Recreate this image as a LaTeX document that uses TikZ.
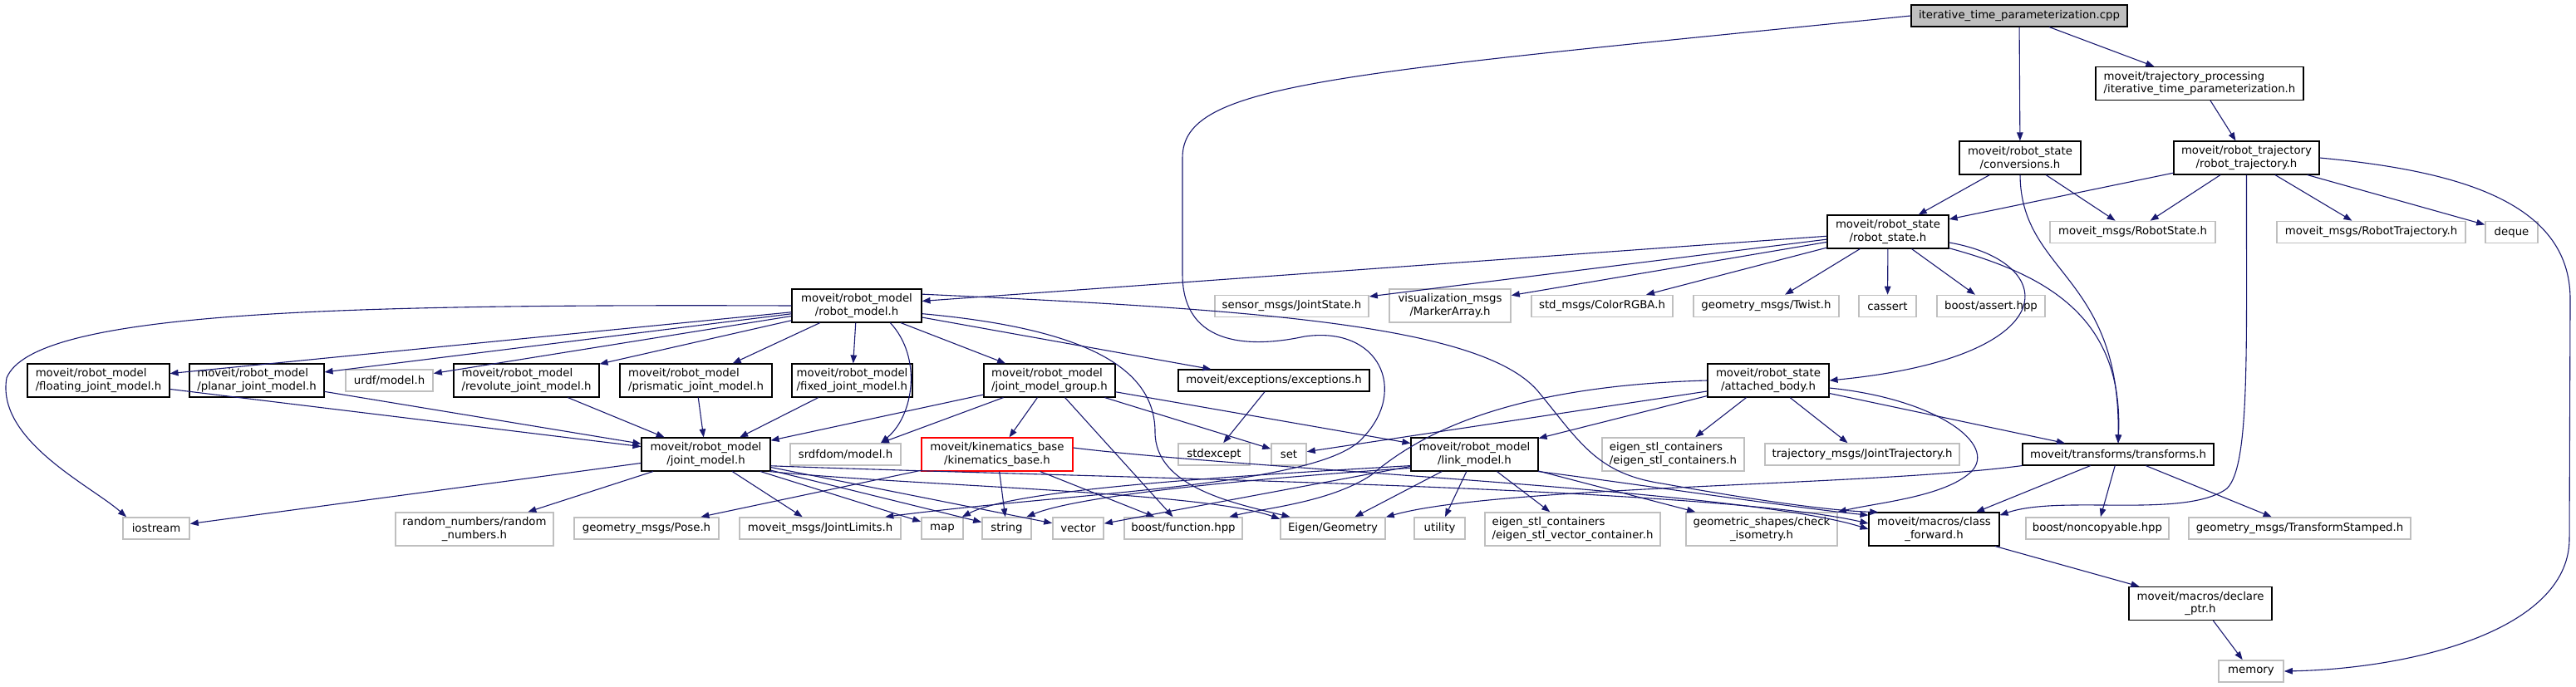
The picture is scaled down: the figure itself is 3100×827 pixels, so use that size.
\documentclass[tikz,border=0pt]{standalone}
\usepackage{fontspec}
\setmainfont{DejaVu Sans}
\usetikzlibrary{arrows.meta}
\definecolor{incblue}{HTML}{191970}
\definecolor{extgray}{HTML}{BFBFBF}
\tikzset{
  hdr/.style={draw=black,line width=1.1pt,fill=white,inner sep=0pt,align=center,font=\fontsize{13.3pt}{15.5pt}\selectfont},
  ext/.style={hdr,draw=extgray,line width=1.6pt},
  root/.style={hdr,fill=extgray},
  trunc/.style={hdr,draw=red},
  one/.style={minimum height=26pt},
  two/.style={minimum height=40pt},
  inc/.style={draw=incblue,line width=1.1pt,-{Triangle[length=10pt,width=7.5pt]}}
}
\begin{document}
\begin{tikzpicture}[x=1pt,y=-1pt]
\useasboundingbox (0,0) rectangle (3100,827);

\node[root,one,minimum width=260pt] (cpp) at (2430,19) {iterative\_time\_parameterization.cpp};
\node[hdr,two,align=left,minimum width=250pt] (tp) at (2647,100.5) {moveit/trajectory\_processing\\/iterative\_time\_parameterization.h};
\node[hdr,two,minimum width=146pt] (conv) at (2431,190) {moveit/robot\_state\\/conversions.h};
\node[hdr,two,minimum width=175pt] (rtraj) at (2703.5,190) {moveit/robot\_trajectory\\/robot\_trajectory.h};
\node[hdr,two,minimum width=146pt] (rstate) at (2272,279) {moveit/robot\_state\\/robot\_state.h};
\node[ext,one,minimum width=199pt] (msgrs) at (2566.5,279.5) {moveit\_msgs/RobotState.h};
\node[ext,one,minimum width=227pt] (msgrt) at (2853.5,279.5) {moveit\_msgs/RobotTrajectory.h};
\node[ext,one,minimum width=63pt] (deque) at (3022.5,279.5) {deque};

\node[hdr,two,minimum width=156pt] (rmodel) at (1031,368) {moveit/robot\_model\\/robot\_model.h};
\node[ext,one,minimum width=185pt] (jstate) at (1554.5,368.5) {sensor\_msgs/JointState.h};
\node[ext,two,minimum width=146pt] (marker) at (1745,368) {visualization\_msgs\\/MarkerArray.h};
\node[ext,one,minimum width=170pt] (color) at (1928,368.5) {std\_msgs/ColorRGBA.h};
\node[ext,one,minimum width=175pt] (twist) at (2125.5,368.5) {geometry\_msgs/Twist.h};
\node[ext,one,minimum width=69pt] (cassert) at (2271.5,368.5) {cassert};
\node[ext,one,minimum width=130pt] (bassert) at (2396,368.5) {boost/assert.hpp};

\node[hdr,two,align=left,minimum width=171pt] (floating) at (118.5,458) {moveit/robot\_model\\/floating\_joint\_model.h};
\node[hdr,two,align=left,minimum width=162pt] (planar) at (309,458) {moveit/robot\_model\\/planar\_joint\_model.h};
\node[ext,one,minimum width=105pt] (urdf) at (468.5,458) {urdf/model.h};
\node[hdr,two,align=left,minimum width=175pt] (revolute) at (633.5,458) {moveit/robot\_model\\/revolute\_joint\_model.h};
\node[hdr,two,align=left,minimum width=183pt] (prismatic) at (837.5,458) {moveit/robot\_model\\/prismatic\_joint\_model.h};
\node[hdr,two,align=left,minimum width=145pt] (fixed) at (1025.5,458) {moveit/robot\_model\\/fixed\_joint\_model.h};
\node[hdr,two,align=left,minimum width=158pt] (jmg) at (1263,458) {moveit/robot\_model\\/joint\_model\_group.h};
\node[hdr,one,minimum width=230pt] (exc) at (1533,458) {moveit/exceptions/exceptions.h};
\node[hdr,two,minimum width=146pt] (attached) at (2128,458) {moveit/robot\_state\\/attached\_body.h};

\node[hdr,two,minimum width=155pt] (jmodel) at (849.5,547) {moveit/robot\_model\\/joint\_model.h};
\node[ext,one,minimum width=133pt] (srdf) at (1017.5,547) {srdfdom/model.h};
\node[trunc,two,minimum width=182pt] (kin) at (1200,547) {moveit/kinematics\_base\\/kinematics\_base.h};
\node[ext,one,minimum width=86pt] (stdexc) at (1461,547) {stdexcept};
\node[ext,one,minimum width=42pt] (set) at (1551,547) {set};
\node[hdr,two,minimum width=153pt] (link) at (1774.5,547) {moveit/robot\_model\\/link\_model.h};
\node[ext,two,align=left,minimum width=171pt] (esc) at (2013.5,547) {eigen\_stl\_containers\\/eigen\_stl\_containers.h};
\node[ext,one,minimum width=234pt] (jtraj) at (2241,547) {trajectory\_msgs/JointTrajectory.h};
\node[hdr,one,minimum width=230pt] (tf) at (2549,547) {moveit/transforms/transforms.h};

\node[ext,one,minimum width=80pt] (iostream) at (188,636) {iostream};
\node[ext,two,minimum width=190pt] (random) at (571,637) {random\_numbers/random\\\_numbers.h};
\node[ext,one,minimum width=174pt] (pose) at (778,636) {geometry\_msgs/Pose.h};
\node[ext,one,minimum width=194pt] (jlim) at (987,636) {moveit\_msgs/JointLimits.h};
\node[ext,one,minimum width=50pt] (map) at (1134,636) {map};
\node[ext,one,minimum width=59pt] (string) at (1211.5,636) {string};
\node[ext,one,minimum width=61pt] (vector) at (1297.5,636) {vector};
\node[ext,one,minimum width=142pt] (bfunc) at (1424,636) {boost/function.hpp};
\node[ext,one,minimum width=126pt] (eigen) at (1604,636) {Eigen/Geometry};
\node[ext,one,minimum width=61pt] (utility) at (1732.5,636) {utility};
\node[ext,two,align=left,minimum width=211pt] (esvc) at (1892.5,637) {eigen\_stl\_containers\\/eigen\_stl\_vector\_container.h};
\node[ext,two,minimum width=182pt] (check) at (2120,637) {geometric\_shapes/check\\\_isometry.h};
\node[hdr,two,minimum width=157pt] (cfwd) at (2327.5,637) {moveit/macros/class\\\_forward.h};
\node[ext,one,minimum width=172pt] (noncopy) at (2524,636) {boost/noncopyable.hpp};
\node[ext,one,minimum width=267pt] (tfst) at (2767.5,636) {geometry\_msgs/TransformStamped.h};
\node[hdr,two,minimum width=172pt] (declare) at (2648,726.5) {moveit/macros/declare\\\_ptr.h};
\node[ext,one,minimum width=78pt] (memory) at (2709,808) {memory};

\draw[inc] (cpp) -- (tp);
\draw[inc] (cpp) -- (conv);
\draw[inc] (cpp.west) .. controls (1600,90) and (1423,100) .. (1423,190) -- (1423,330) .. controls (1423,420) and (1510,418) .. (1570,405) .. controls (1660,392) and (1695,470) .. (1640,527) .. controls (1590,585) and (1300,592) .. (jlim.10);
\draw[inc] (tp) -- (rtraj);

\draw[inc] (conv) -- (rstate);
\draw[inc] (conv) -- (msgrs);
\draw[inc] (conv.south) .. controls (2432,330) and (2552,330) .. (tf.north);
\draw[inc] (rtraj) -- (rstate);
\draw[inc] (rtraj) -- (msgrs);
\draw[inc] (rtraj) -- (msgrt);
\draw[inc] (rtraj) -- (deque);
\draw[inc] (rtraj.east) .. controls (2950,205) and (3093,240) .. (3093,360) -- (3092,650) .. controls (3090,760) and (2900,805) .. (memory.east);
\draw[inc] (rtraj.south) .. controls (2703,420) and (2708,560) .. (2680,588) .. controls (2630,625) and (2480,595) .. (cfwd.12);

\draw[inc] (rstate) -- (rmodel);
\draw[inc] (rstate) -- (jstate);
\draw[inc] (rstate) -- (marker);
\draw[inc] (rstate) -- (color);
\draw[inc] (rstate) -- (twist);
\draw[inc] (rstate) -- (cassert);
\draw[inc] (rstate) -- (bassert);
\draw[inc] (rstate.350) .. controls (2480,315) and (2490,430) .. (attached.east);
\draw[inc] (rstate.345) .. controls (2460,330) and (2556,380) .. (tf.north);

\draw[inc] (rmodel) -- (floating);
\draw[inc] (rmodel) -- (planar);
\draw[inc] (rmodel) -- (urdf);
\draw[inc] (rmodel) -- (revolute);
\draw[inc] (rmodel) -- (prismatic);
\draw[inc] (rmodel) -- (fixed);
\draw[inc] (rmodel) -- (jmg);
\draw[inc] (rmodel) -- (exc);
\draw[inc] (rmodel.west) .. controls (400,366) and (40,375) .. (8,455) .. controls (-5,530) and (110,585) .. (iostream.159);
\draw[inc] (rmodel.333) .. controls (1110,430) and (1100,500) .. (srdf.18);
\draw[inc] (rmodel.353) .. controls (1300,395) and (1390,440) .. (1390,520) .. controls (1390,585) and (1480,605) .. (eigen.165);
\draw[inc] (rmodel.10) .. controls (1500,372) and (1780,390) .. (1850,470) .. controls (1900,530) and (1920,570) .. (2000,582) .. controls (2100,600) and (2200,615) .. (cfwd.163);

\draw[inc] (floating) -- (jmodel);
\draw[inc] (planar) -- (jmodel);
\draw[inc] (revolute) -- (jmodel);
\draw[inc] (prismatic) -- (jmodel);
\draw[inc] (fixed) -- (jmodel);

\draw[inc] (jmg) -- (jmodel);
\draw[inc] (jmg) -- (srdf.18);
\draw[inc] (jmg) -- (kin);
\draw[inc] (jmg) -- (bfunc);
\draw[inc] (jmg) -- (set);
\draw[inc] (jmg) -- (link);
\draw[inc] (exc) -- (stdexc);

\draw[inc] (attached.west) .. controls (1800,465) and (1700,530) .. (1650,572) .. controls (1600,605) and (1520,612) .. (bfunc.14);
\draw[inc] (attached.190) -- (set);
\draw[inc] (attached) -- (link);
\draw[inc] (attached) -- (esc);
\draw[inc] (attached) -- (jtraj);
\draw[inc] (attached) -- (tf);
\draw[inc] (attached.353) .. controls (2330,480) and (2405,535) .. (2372,568) .. controls (2340,598) and (2260,605) .. (check.north east);

\draw[inc] (jmodel) -- (iostream);
\draw[inc] (jmodel) -- (random);
\draw[inc] (jmodel) -- (jlim);
\draw[inc] (jmodel) -- (map);
\draw[inc] (jmodel) -- (string);
\draw[inc] (jmodel) -- (vector);
\draw[inc] (jmodel.345) .. controls (1100,585) and (1450,592) .. (eigen.170);
\draw[inc] (jmodel.350) .. controls (1300,575) and (2050,585) .. (cfwd.175);

\draw[inc] (kin) -- (pose);
\draw[inc] (kin) -- (string);
\draw[inc] (kin) -- (bfunc);
\draw[inc] (kin.5) .. controls (1500,565) and (2100,590) .. (cfwd.west);

\draw[inc] (link.190) .. controls (1450,575) and (1220,590) .. (map.30);
\draw[inc] (link.192) .. controls (1450,580) and (1290,600) .. (string.30);
\draw[inc] (link) -- (vector);
\draw[inc] (link) -- (eigen);
\draw[inc] (link) -- (utility);
\draw[inc] (link) -- (esvc);
\draw[inc] (link) -- (check);
\draw[inc] (link.345) .. controls (1950,580) and (2150,610) .. (cfwd.168);

\draw[inc] (tf) -- (cfwd);
\draw[inc] (tf) -- (noncopy);
\draw[inc] (tf) -- (tfst);
\draw[inc] (tf.south west) .. controls (2250,585) and (1800,585) .. (eigen.12);
\draw[inc] (cfwd) -- (declare);
\draw[inc] (declare) -- (memory);
\end{tikzpicture}
\end{document}
